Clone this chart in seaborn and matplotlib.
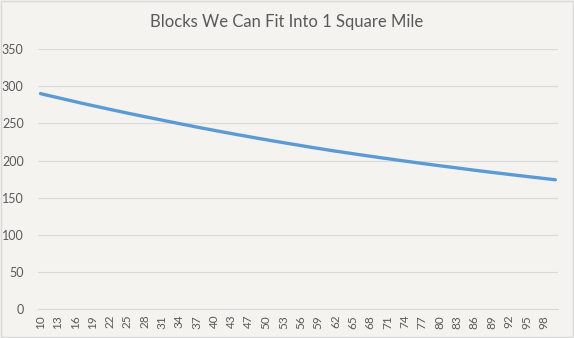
import matplotlib
matplotlib.use("Agg")
import matplotlib.pyplot as plt
import seaborn as sns
import numpy as np
import pandas as pd

# Category labels (street width) and values (blocks per square mile)
categories = [10, 11, 12, 13, 14, 15, 16, 17, 18, 19, 20, 21, 22, 23, 24, 25, 26, 27, 28, 29,
              30, 31, 32, 33, 34, 35, 36, 37, 38, 39, 40, 41, 42, 43, 44, 45, 47, 48, 49, 50,
              51, 52, 53, 54, 55, 56, 57, 58, 59, 60, 61, 62, 63, 64, 65, 66, 67, 68, 69, 70,
              71, 72, 73, 74, 75, 76, 77, 78, 79, 80, 81, 82, 83, 84, 85, 86, 87, 88, 89, 90,
              91, 92, 93, 94, 95, 96, 97, 98, 99, 100]
blocks = [290.1, 288.2, 286.4, 284.6, 282.8, 281.0, 279.2, 277.4, 275.7, 274.0,
          272.3, 270.6, 268.9, 267.2, 265.6, 263.9, 262.3, 260.7, 259.1, 257.6,
          256.0, 254.4, 252.8, 251.3, 249.7, 248.2, 246.7, 245.1, 243.6, 242.2,
          240.7, 239.2, 237.8, 236.4, 234.9, 233.6, 232.2, 230.8, 229.4, 228.1,
          226.7, 225.4, 224.1, 222.8, 221.5, 220.2, 218.9, 217.6, 216.4, 215.2,
          213.9, 212.7, 211.6, 210.4, 209.3, 208.1, 207.0, 205.9, 204.8, 203.6,
          202.6, 201.5, 200.4, 199.3, 198.3, 197.2, 196.2, 195.1, 194.1, 193.1,
          192.1, 191.1, 190.1, 189.1, 188.1, 187.1, 186.1, 185.2, 184.2, 183.3,
          182.4, 181.4, 180.5, 179.6, 178.7, 177.8, 176.9, 176.0, 175.1, 174.2]
title = "Blocks We Can Fit Into 1 Square Mile"
y_ticks = [0, 50, 100, 150, 200, 250, 300, 350]

bg = "#f4f3ef"
grid_c = "#d9d9d9"
text_c = "#595959"
line_c = "#5b9bd5"

sns.set_theme(style="white")
plt.rcParams["font.family"] = ["Lato", "DejaVu Sans"]

fig = plt.figure(figsize=(5.74, 3.38), dpi=100, facecolor=bg)
ax = fig.add_axes([0.0655, 0.0849, 0.907, 0.770])
ax.set_facecolor(bg)

df = pd.DataFrame({"pos": np.arange(len(categories)), "blocks": blocks})
sns.lineplot(data=df, x="pos", y="blocks", ax=ax, color=line_c, linewidth=2.4)

ax.set_xlim(-0.5, len(categories) - 0.5)
ax.set_ylim(0, 350)
ax.set_yticks(y_ticks)
ax.set_yticklabels([str(v) for v in y_ticks], color=text_c, fontsize=9)
tick_pos = list(range(0, len(categories), 3))
ax.set_xticks(tick_pos)
ax.set_xticklabels([str(categories[i]) for i in tick_pos], rotation=90, color=text_c, fontsize=8.5)
ax.tick_params(axis="both", length=0)
ax.tick_params(axis="y", pad=10)
ax.tick_params(axis="x", pad=4)
ax.set_xlabel("")
ax.set_ylabel("")
ax.grid(axis="y", color=grid_c, linewidth=0.8)
ax.set_axisbelow(True)
for s in ["top", "right", "left"]:
    ax.spines[s].set_visible(False)
ax.spines["bottom"].set_color(grid_c)
ax.spines["bottom"].set_linewidth(0.8)

fig.text(0.5, 0.935, title, ha="center", va="center", fontsize=12, color=text_c)

fig.patches.append(plt.Rectangle((0.001, 0.002), 0.997, 0.995, transform=fig.transFigure,
                                 fill=False, edgecolor=grid_c, linewidth=1))

fig.savefig("out.png", dpi=100, facecolor=bg)
